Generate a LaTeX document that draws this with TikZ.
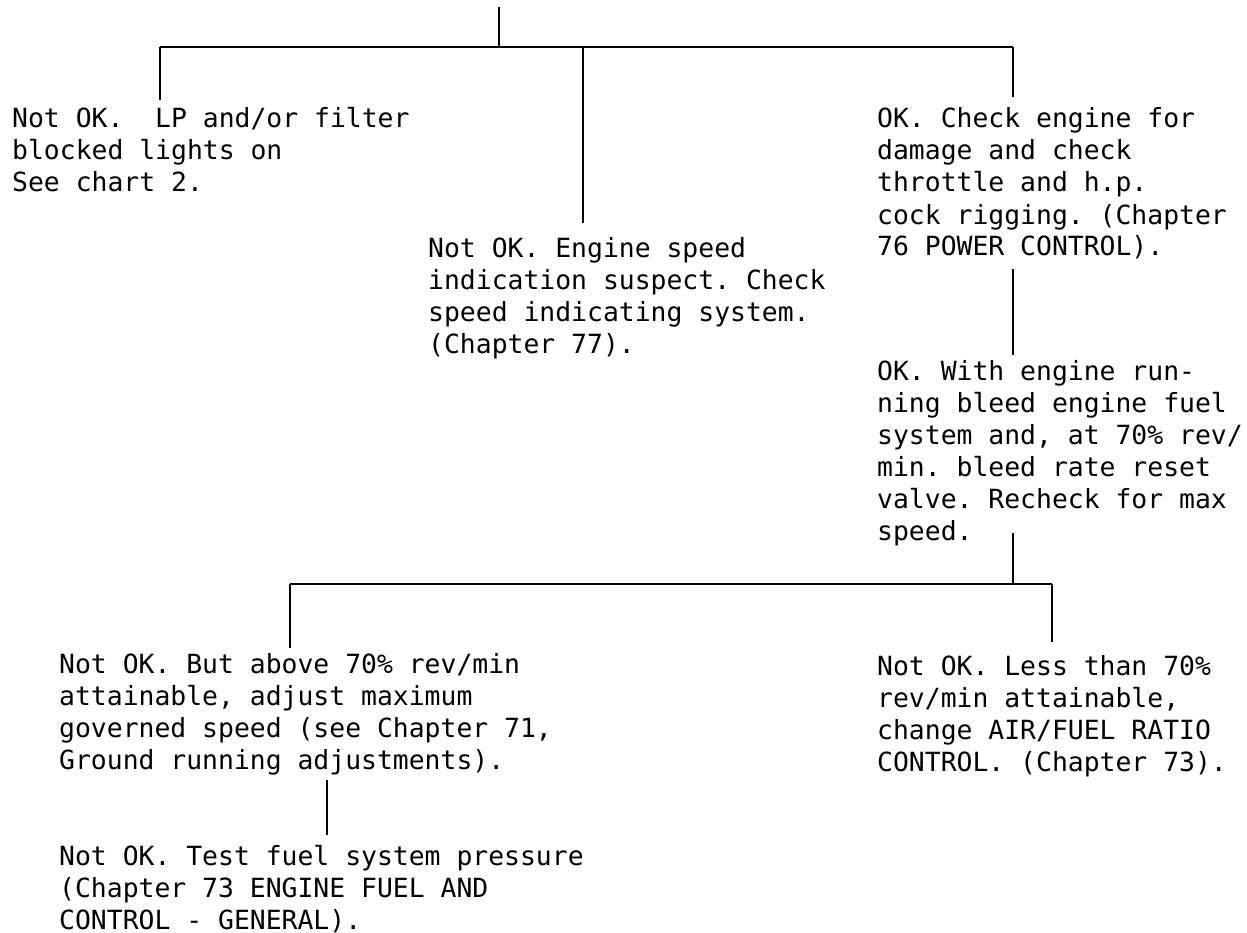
\documentclass[tikz,border=0pt]{standalone}
\usepackage{fontspec}
\newfontfamily\typewriter{DejaVu Sans Mono}
\tikzset{
  chk/.style={font=\typewriter\fontsize{26.4pt}{32pt}\selectfont\frenchspacing,
    align=left, anchor=base west, inner sep=0pt},
  flow/.style={line width=1.4pt}
}
\begin{document}
\begin{tikzpicture}[x=1pt,y=-1pt]
\useasboundingbox (0,0) rectangle (1247,933);
% first split (nodes sit on the baseline of their last line)
\node[chk] (filter) at (12,192) {Not OK.\ \ LP and/or filter\\blocked lights on\\See chart 2.};
\node[chk] (indic) at (428,353) {Not OK. Engine speed\\indication suspect. Check\\speed indicating system.\\(Chapter 77).};
\node[chk] (rigging) at (877,256) {OK. Check engine for\\damage and check\\throttle and h.p.\\cock rigging. (Chapter\\76 POWER CONTROL).};
\node[chk] (bleed) at (877,540) {OK. With engine run-\\ning bleed engine fuel\\system and, at 70\% rev/\\min. bleed rate reset\\valve. Recheck for max\\speed.};
% second split
\node[chk] (governed) at (59,769) {Not OK. But above 70\% rev/min\\attainable, adjust maximum\\governed speed (see Chapter 71,\\Ground running adjustments).};
\node[chk] (pressure) at (59,929) {Not OK. Test fuel system pressure\\(Chapter 73 ENGINE FUEL AND\\CONTROL - GENERAL).};
\node[chk] (ratio) at (877,771) {Not OK. Less than 70\%\\rev/min attainable,\\change AIR/FUEL RATIO\\CONTROL. (Chapter 73).};

\coordinate (stem) at (499,7);
\coordinate (hub) at (499,47);
\coordinate (barL) at (160,47);
\coordinate (barM) at (583,47);
\coordinate (barR) at (1013,47);
\coordinate (loL) at (290,584);
\coordinate (loM) at (1013,584);
\coordinate (loR) at (1052,584);

\draw[flow] (stem) -- (hub);
\draw[flow] (barL) -- (barR);
\draw[flow] (barL) -- ([yshift=92pt]barL |- filter.base);
\draw[flow] (barM) -- ([yshift=130pt]barM |- indic.base);
\draw[flow] (barR) -- ([yshift=159pt]barR |- rigging.base);
\draw[flow] ([yshift=-13pt]barR |- rigging.base) -- ([yshift=185pt]barR |- bleed.base);
\draw[flow] ([yshift=7pt]loM |- bleed.base) -- (loM);
\draw[flow] (loL) -- (loR);
\draw[flow] (loL) -- ([yshift=121pt]loL |- governed.base);
\draw[flow] (loR) -- ([yshift=129pt]loR |- ratio.base);
\draw[flow] ([xshift=268pt,yshift=-11pt]governed.base west) -- ([xshift=268pt,yshift=94pt]pressure.base west);
\end{tikzpicture}
\end{document}
